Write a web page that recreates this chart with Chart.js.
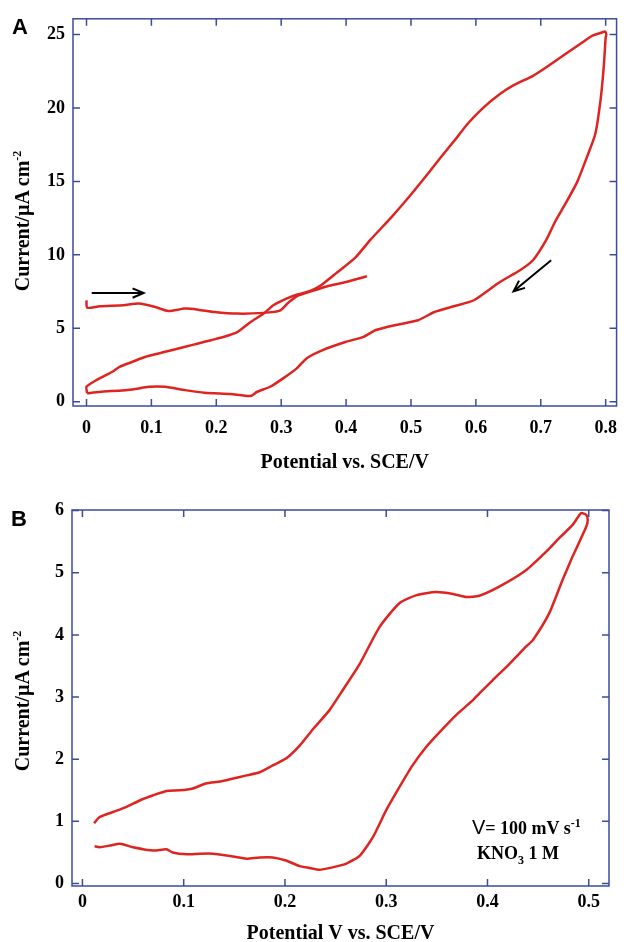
<!DOCTYPE html>
<html>
<head>
<meta charset="utf-8">
<script src="https://cdn.jsdelivr.net/npm/chart.js@4.4.1/dist/chart.umd.min.js"></script>
<style>
  body { margin: 0; background: #fff; width: 629px; height: 942px; position: relative; overflow: hidden; }
  canvas { position: absolute; left: 0; }
  #chartA { top: 0; }
  #chartB { top: 490px; }
  .lbl { position: absolute; font-family: 'Liberation Serif', serif; font-weight: bold; color: #000; white-space: nowrap; }
  .panel { font-family: 'Liberation Sans', Arial, sans-serif; font-size: 22px; }
  .ytitle { font-size: 20px; transform: translate(-50%, -50%) rotate(-90deg); }
  .note { font-size: 18px; }
  sup, sub { font-size: 12px; }
</style>
</head>
<body>
<canvas id="chartA" width="629" height="480"></canvas>
<canvas id="chartB" width="629" height="452"></canvas>

<div class="lbl panel" style="left:12px; top:14px;">A</div>
<div class="lbl panel" style="left:11px; top:506px;">B</div>
<div class="lbl ytitle" style="left:22px; top:221px;">Current/µA cm<sup>-2</sup></div>
<div class="lbl ytitle" style="left:22px; top:701px;">Current/µA cm<sup>-2</sup></div>
<div class="lbl note" style="left:472px; top:816px;"><span style="font-family:'Liberation Sans',Arial,sans-serif;font-weight:normal;font-size:20px">V</span>= 100 mV s<sup>-1</sup></div>
<div class="lbl note" style="left:477px; top:843px;">KNO<sub>3</sub> 1 M</div>

<script>
// ---- panel A: first anodic scan (starts at 0 V, arrow) ----
const aScanV = [0, 0.001, 0.02, 0.057, 0.081, 0.106, 0.126, 0.152, 0.172, 0.197, 0.233, 0.273, 0.298, 0.31, 0.325, 0.345, 0.37, 0.40, 0.432];
const aScanI = [6.9, 6.4, 6.5, 6.57, 6.68, 6.45, 6.18, 6.34, 6.27, 6.11, 6.0, 6.05, 6.2, 6.7, 7.2, 7.5, 7.85, 8.15, 8.54];

// ---- panel A: full cycle up to 0.8 V and back ----
const aCycleV = [0.001, 0, 0.015, 0.04, 0.051, 0.071, 0.091, 0.111, 0.131, 0.152, 0.172, 0.192, 0.212, 0.233, 0.253, 0.273, 0.288, 0.308, 0.325, 0.345, 0.362, 0.384, 0.415, 0.437, 0.470, 0.501, 0.526, 0.546, 0.571, 0.587, 0.612, 0.637, 0.657, 0.688, 0.708, 0.738, 0.764, 0.779, 0.794, 0.799, 0.801,
  0.800, 0.797, 0.792, 0.784, 0.771, 0.756, 0.738, 0.723, 0.708, 0.688, 0.668, 0.637, 0.597, 0.566, 0.536, 0.511, 0.475, 0.445, 0.427, 0.400, 0.364, 0.339, 0.324, 0.303, 0.283, 0.263, 0.253, 0.222, 0.182, 0.152, 0.121, 0.096, 0.071, 0.020, 0.001];
const aCycleI = [0.57, 1.02, 1.47, 2.04, 2.38, 2.72, 3.06, 3.29, 3.51, 3.74, 3.97, 4.19, 4.42, 4.76, 5.43, 6.0, 6.57, 7.02, 7.3, 7.55, 7.95, 8.72, 9.85, 11.0, 12.57, 14.16, 15.52, 16.64, 18.0, 18.91, 20.04, 20.95, 21.52, 22.19, 22.76, 23.67, 24.46, 24.91, 25.14, 25.2, 25.0,
  24.8, 22.76, 20.5, 18.23, 16.64, 14.95, 13.48, 12.34, 10.98, 9.63, 8.95, 8.15, 6.91, 6.5, 6.11, 5.55, 5.21, 4.87, 4.42, 4.08, 3.51, 2.95, 2.27, 1.59, 1.02, 0.68, 0.39, 0.52, 0.61, 0.79, 1.02, 1.02, 0.84, 0.66, 0.57];

const aTicksV = [0, 0.1, 0.2, 0.3, 0.4, 0.5, 0.6, 0.7, 0.8];
const aTicksI = [0, 5, 10, 15, 20, 25];
// scan direction arrows [from, to] in (V, I)
const aArrows = [[[0.008, 7.4], [0.088, 7.4]], [[0.716, 9.63], [0.658, 7.52]]];

// ---- panel B: cycle 0 - 0.5 V, 100 mV/s ----
const bCycleV = [0.0115, 0.017, 0.030, 0.043, 0.057, 0.070, 0.083, 0.096, 0.109, 0.122, 0.136, 0.149, 0.162, 0.175, 0.188, 0.201, 0.2145, 0.228, 0.244, 0.257, 0.274, 0.2935, 0.313, 0.330, 0.349, 0.366, 0.379, 0.392, 0.412, 0.438, 0.458, 0.471, 0.484, 0.4926, 0.4975, 0.499,
  0.4975, 0.484, 0.474, 0.461, 0.445, 0.438, 0.422, 0.405, 0.392, 0.3856, 0.369, 0.353, 0.3396, 0.326, 0.313, 0.300, 0.287, 0.274, 0.2606, 0.247, 0.234, 0.2244, 0.2145, 0.201, 0.188, 0.175, 0.162, 0.149, 0.129, 0.116, 0.103, 0.089, 0.083, 0.070, 0.050, 0.037, 0.027, 0.017, 0.012];
const bCycleI = [0.97, 1.07, 1.15, 1.23, 1.34, 1.42, 1.49, 1.50, 1.53, 1.61, 1.64, 1.69, 1.74, 1.79, 1.90, 2.01, 2.22, 2.49, 2.79, 3.11, 3.54, 4.13, 4.51, 4.64, 4.69, 4.66, 4.61, 4.63, 4.78, 5.04, 5.34, 5.56, 5.77, 5.96, 5.93, 5.85,
  5.74, 5.26, 4.88, 4.35, 3.92, 3.81, 3.54, 3.27, 3.06, 2.95, 2.71, 2.44, 2.20, 1.90, 1.55, 1.18, 0.75, 0.45, 0.32, 0.26, 0.22, 0.25, 0.28, 0.37, 0.42, 0.42, 0.40, 0.435, 0.48, 0.48, 0.47, 0.50, 0.55, 0.53, 0.585, 0.64, 0.61, 0.585, 0.60];

const bTicksV = [0, 0.1, 0.2, 0.3, 0.4, 0.5];
const bTicksI = [0, 1, 2, 3, 4, 5, 6];

const axisColor = '#3c4b9b';
const curveColor = '#de2420';
const serif = "'Liberation Serif', 'Times New Roman', serif";
const tickFont = { family: serif, size: 18, weight: 'bold' };
const titleFont = { family: serif, size: 20, weight: 'bold' };

const toPoints = (xs, ys) => xs.map((v, i) => ({ x: v, y: ys[i] }));

// box frame with inward ticks on all four sides, plus the scan arrows
const boxTicks = {
  id: 'boxTicks',
  afterDatasetsDraw(chart, args, opts) {
    const { ctx, chartArea: a, scales: { x, y } } = chart;
    ctx.save();
    ctx.strokeStyle = axisColor;
    ctx.lineWidth = 1.5;
    ctx.strokeRect(a.left, a.top, a.right - a.left, a.bottom - a.top);
    ctx.beginPath();
    x.ticks.forEach(t => {
      const px = x.getPixelForValue(t.value);
      ctx.moveTo(px, a.bottom); ctx.lineTo(px, a.bottom - opts.len);
      ctx.moveTo(px, a.top); ctx.lineTo(px, a.top + opts.len);
    });
    y.ticks.forEach(t => {
      const py = y.getPixelForValue(t.value);
      ctx.moveTo(a.left, py); ctx.lineTo(a.left + opts.len, py);
      ctx.moveTo(a.right, py); ctx.lineTo(a.right - opts.len, py);
    });
    ctx.stroke();

    ctx.strokeStyle = '#000';
    ctx.lineWidth = 2;
    (opts.arrows || []).forEach(([p0, p1]) => {
      const x0 = x.getPixelForValue(p0[0]), y0 = y.getPixelForValue(p0[1]);
      const x1 = x.getPixelForValue(p1[0]), y1 = y.getPixelForValue(p1[1]);
      const ang = Math.atan2(y1 - y0, x1 - x0);
      ctx.beginPath();
      ctx.moveTo(x0, y0); ctx.lineTo(x1, y1);
      ctx.moveTo(x1 - 12 * Math.cos(ang - 0.4), y1 - 12 * Math.sin(ang - 0.4));
      ctx.lineTo(x1, y1);
      ctx.lineTo(x1 - 12 * Math.cos(ang + 0.4), y1 - 12 * Math.sin(ang + 0.4));
      ctx.stroke();
    });
    ctx.restore();
  }
};

function makeChart(id, cfg) {
  const lineStyle = { showLine: true, pointRadius: 0, borderWidth: 2.5, borderColor: curveColor, tension: 0.2, fill: false };
  return new Chart(document.getElementById(id), {
    type: 'scatter',
    data: { datasets: cfg.series.map(s => Object.assign({ data: s }, lineStyle)) },
    options: {
      responsive: false,
      animation: false,
      layout: { padding: cfg.padding },
      plugins: { legend: { display: false }, tooltip: { enabled: false }, boxTicks: { len: 7, arrows: cfg.arrows } },
      scales: {
        x: {
          type: 'linear', min: cfg.xMin, max: cfg.xMax,
          afterBuildTicks: s => { s.ticks = cfg.xTicks.map(v => ({ value: v })); },
          afterFit: s => { s.height = cfg.xHeight; },
          ticks: { font: tickFont, color: '#000', padding: cfg.tickPad, autoSkip: false, maxRotation: 0, callback: v => v === 0 ? '0' : v.toFixed(1) },
          grid: { display: false, drawTicks: false },
          border: { display: false },
          title: { display: true, text: cfg.xTitle, color: '#000', font: titleFont, padding: { top: 0, bottom: cfg.titlePad } }
        },
        y: {
          type: 'linear', min: cfg.yMin, max: cfg.yMax,
          afterBuildTicks: s => { s.ticks = cfg.yTicks.map(v => ({ value: v })); },
          afterFit: s => { s.width = cfg.yWidth; },
          ticks: { font: tickFont, color: '#000', padding: 8, autoSkip: false, callback: v => String(v) },
          grid: { display: false, drawTicks: false },
          border: { display: false }
        }
      }
    },
    plugins: [boxTicks]
  });
}

makeChart('chartA', {
  series: [toPoints(aScanV, aScanI), toPoints(aCycleV, aCycleI)],
  arrows: aArrows,
  xMin: -0.0208, xMax: 0.8168, yMin: -0.29, yMax: 26.07,
  xTicks: aTicksV, yTicks: aTicksI,
  padding: { left: 0, top: 18, right: 4, bottom: 0 },
  xHeight: 74, yWidth: 73, tickPad: 12, titlePad: 5,
  xTitle: 'Potential vs. SCE/V'
});

makeChart('chartB', {
  series: [toPoints(bCycleV, bCycleI)],
  arrows: [],
  xMin: -0.0103, xMax: 0.52, yMin: -0.04, yMax: 6.01,
  xTicks: bTicksV, yTicks: bTicksI,
  padding: { left: 0, top: 20, right: 20, bottom: 0 },
  xHeight: 56, yWidth: 72, tickPad: 6, titlePad: -4,
  xTitle: 'Potential V vs. SCE/V'
});
</script>
</body>
</html>
